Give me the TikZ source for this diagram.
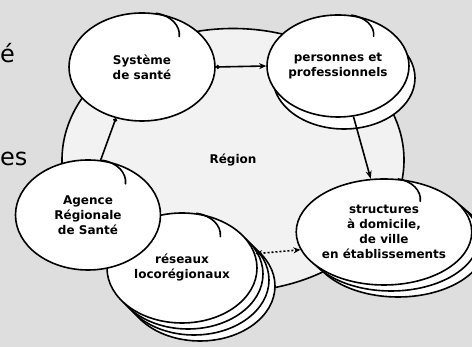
\documentclass[tikz,border=0pt]{standalone}
\usepackage{fontspec}
\setmainfont{DejaVu Sans}
\usetikzlibrary{shapes.geometric,shadows,arrows.meta}

\begin{document}
\begin{tikzpicture}[x=1pt,y=1pt,
    bubble/.style={ellipse,draw,fill=white,line width=1.6pt,inner sep=0pt,
      align=center,font=\bfseries\fontsize{12}{15}\selectfont},
    curl/.style={line width=1.6pt,line cap=round},
    link/.style={line width=1.6pt}]

    % Page
    \clip (0,0) rectangle (472,347);
    \fill[black!13] (0,0) rectangle (472,347);

    % Words at the left margin
    \node[anchor=base west,inner sep=0pt,font=\fontsize{24}{28}\selectfont] (w1) at (0,284) {é};
    \node[anchor=base west,inner sep=0pt,font=\fontsize{24}{28}\selectfont] (w2) at (0,181) {es};

    % Region
    \node[bubble,fill=black!5,minimum width=342pt,minimum height=263pt] (reg) at (233,187) {Région};

    % Bubbles
    \node[bubble,minimum width=146pt,minimum height=108pt] (sys) at (142,280) {Système\\de santé};
    \node[bubble,minimum width=142pt,minimum height=102pt,
      copy shadow={shadow xshift=6pt,shadow yshift=-12pt}] (pers) at (338,281) {personnes et\\professionnels};
    \node[bubble,minimum width=142pt,minimum height=106pt,
      copy shadow={shadow xshift=14pt,shadow yshift=-12pt},
      copy shadow={shadow xshift=7pt,shadow yshift=-6pt}] (struct) at (384,115)
      {structures\\à domicile,\\de ville\\en établissements};
    \node[bubble,minimum width=150pt,minimum height=110pt,
      copy shadow={shadow xshift=18pt,shadow yshift=-18pt},
      copy shadow={shadow xshift=12pt,shadow yshift=-12pt},
      copy shadow={shadow xshift=6pt,shadow yshift=-6pt}] (res) at (182,79) {réseaux\\locorégionaux};
    \node[bubble,minimum width=145pt,minimum height=110pt] (ars) at (88,132) {Agence\\Régionale\\de Santé};

    % Curled edges
    \draw[curl] (sys.75) arc[start angle=78,end angle=-5,x radius=29pt,y radius=22pt];
    \draw[curl] (pers.75) arc[start angle=78,end angle=-5,x radius=28pt,y radius=20pt];
    \draw[curl] (struct.75) arc[start angle=78,end angle=-5,x radius=28pt,y radius=21pt];
    \draw[curl] (res.75) arc[start angle=78,end angle=-5,x radius=30pt,y radius=22pt];
    \draw[curl] (ars.75) arc[start angle=78,end angle=-5,x radius=29pt,y radius=22pt];

    % Connectors
    \draw[link,{Circle[open,length=4pt]}-{Stealth[length=7pt,width=6pt]}] (sys.east) -- (pers.west);
    \draw[link,-{Stealth[open,length=8pt,width=6pt]}] (pers.287) -- (struct.104);
    \draw[link,-{Circle[open,length=4pt]}] (ars.77) -- (sys.243);
    \draw[link,dash pattern=on 2pt off 2pt,
      {Stealth[open,length=7pt,width=6pt]}-{Stealth[length=7pt,width=6pt]}] (res.11) -- (struct.192);

  \end{tikzpicture}
\end{document}
